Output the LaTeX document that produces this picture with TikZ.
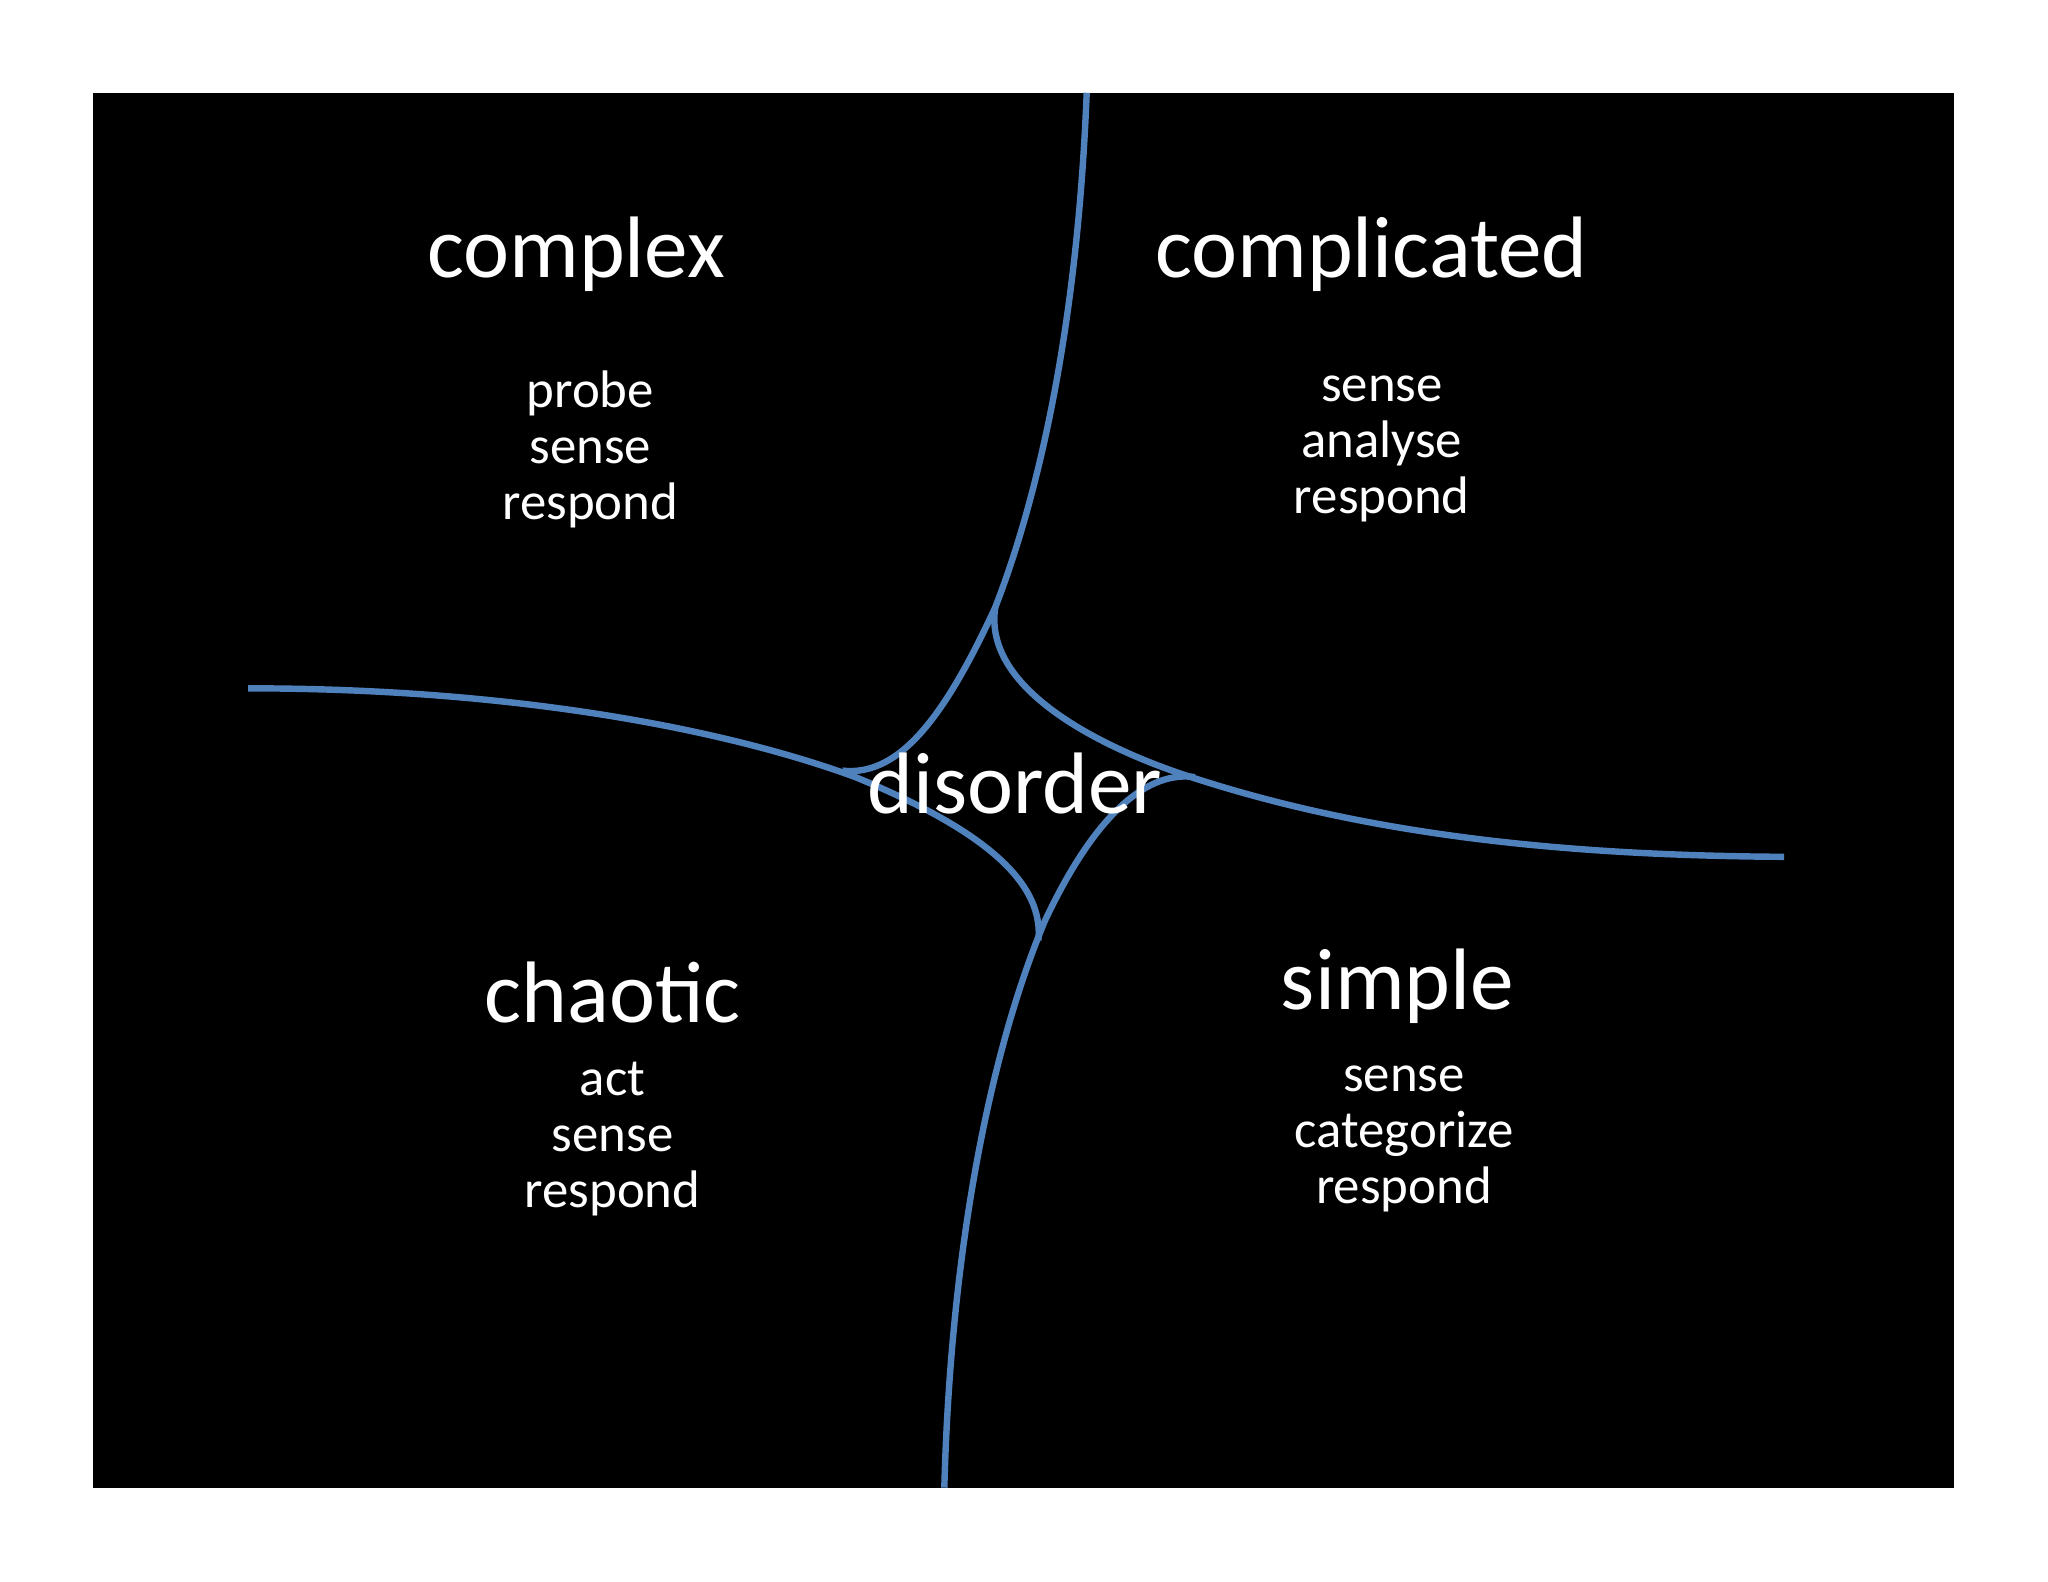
\documentclass[tikz,border=0pt]{standalone}
\usepackage{fontspec}
\setmainfont{Carlito}
\definecolor{cyn}{HTML}{4F81BD}
\begin{document}
\begin{tikzpicture}[x=0.01cm,y=-0.01cm,
  big/.style={text=white,font=\fontsize{19}{22}\selectfont},
  small/.style={text=white,align=center,font=\fontsize{11.5}{12.2}\selectfont},
  curve/.style={draw=cyn,line width=1.4pt}]
\useasboundingbox (0,0) rectangle (1568,1211);
\fill[white] (0,0) rectangle (1568,1211);
\fill[black] (71,71) rectangle (1496,1139);
\draw[curve] (832,71) .. controls (825,250) and (795,380) .. (762,465) .. controls (725,545) and (690,595) .. (645,590);
\draw[curve] (190,527) .. controls (400,527) and (560,560) .. (655,595) .. controls (740,630) and (800,670) .. (795,720);
\draw[curve] (762,465) .. controls (752,530) and (850,575) .. (912,595) .. controls (1050,640) and (1200,655) .. (1366,656);
\draw[curve] (723,1139) .. controls (728,950) and (760,800) .. (800,705) .. controls (840,620) and (880,590) .. (915,595);
\node[big] (cx) at (441,195) {complex};
\node[big] (cd) at (1050,195) {complicated};
\node[big] (ch) at (469,760) {chaotic};
\node[big] (sp) at (1070,755) {simple};
\node[big] (ds) at (777,600) {disorder};
\node[small] (t1) at (452,344) {probe\\sense\\respond};
\node[small] (t2) at (1058,344) {sense\\analyse\\respond};
\node[small] (t3) at (469,872) {act\\sense\\respond};
\node[small] (t4) at (1075,872) {sense\\categorize\\respond};
\end{tikzpicture}
\end{document}
